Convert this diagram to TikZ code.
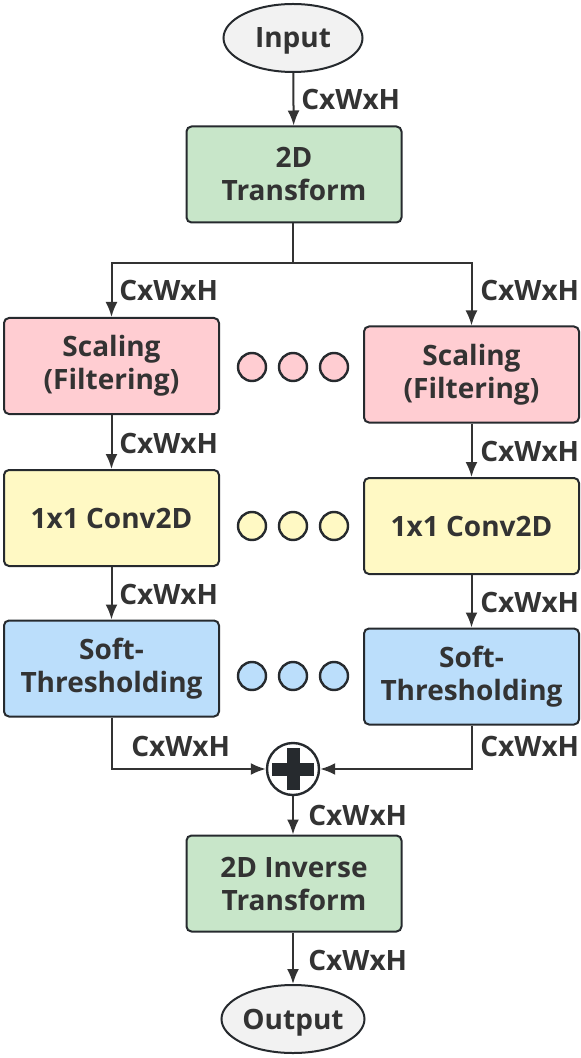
\documentclass[tikz,border=0pt]{standalone}
\usepackage{fontspec}
\setmainfont{Open Sans}
\usetikzlibrary{arrows.meta,shapes.geometric}
\definecolor{ink}{HTML}{333333}
\definecolor{edge}{HTML}{262A2E}
\definecolor{greenbox}{HTML}{C8E6C9}
\definecolor{pinkbox}{HTML}{FFCDD2}
\definecolor{yellowbox}{HTML}{FFF9C4}
\definecolor{bluebox}{HTML}{BBDEFB}
\definecolor{termfill}{HTML}{F2F2F2}
\tikzset{
  every node/.style={font=\fontsize{14}{16.5}\selectfont\bfseries, text=ink},
  block/.style={draw=edge, line width=1pt, rounded corners=2.5pt, align=center,
    minimum width=107.5pt, minimum height=48pt, inner sep=0pt},
  term/.style={draw=edge, line width=1pt, ellipse, fill=termfill, text depth=0pt,
    minimum width=69.5pt, minimum height=34pt, inner sep=0pt},
  dot/.style={draw=edge, line width=1.2pt, circle, minimum size=14pt, inner sep=0pt},
  dims/.style={anchor=west, inner sep=0pt},
  flow/.style={draw=ink, line width=1pt, -{Latex[length=7.5pt,width=6pt]}},
  wire/.style={draw=ink, line width=1pt}
}
\begin{document}
\begin{tikzpicture}[x=0.5pt,y=-0.5pt]
\useasboundingbox (0,0) rectangle (580,1058);

\node[term] (input) at (293,38) {Input};
\node[block, fill=greenbox] (trans) at (294,174.5) {2D\\Transform};

\node[block, fill=pinkbox] (scalL) at (111.5,366) {Scaling\\(Filtering)};
\node[block, fill=yellowbox] (convL) at (111.5,518) {1x1 Conv2D};
\node[block, fill=bluebox] (softL) at (111.5,668.5) {Soft-\\Thresholding};

\node[block, fill=pinkbox] (scalR) at (471.5,374.5) {Scaling\\(Filtering)};
\node[block, fill=yellowbox] (convR) at (471.5,526) {1x1 Conv2D};
\node[block, fill=bluebox] (softR) at (471.5,676.5) {Soft-\\Thresholding};

\foreach \i/\x in {1/252,2/293,3/334} {
  \node[dot, fill=pinkbox] (pd\i) at (\x,367) {};
  \node[dot, fill=yellowbox] (yd\i) at (\x,526) {};
  \node[dot, fill=bluebox] (bd\i) at (\x,676) {};
}

\node[draw=edge, line width=1.2pt, circle, fill=white, minimum size=26pt, inner sep=0pt] (plus) at (293,769) {};
\draw[edge, line width=6.5pt] ([xshift=-10.5pt]plus.center) -- ([xshift=10.5pt]plus.center);
\draw[edge, line width=6.5pt] ([yshift=-10.5pt]plus.center) -- ([yshift=10.5pt]plus.center);

\node[block, fill=greenbox] (inv) at (294,883.5) {2D Inverse\\Transform};
\node[term] (output) at (293,1019) {Output};

\coordinate (split) at (293,263);

% connectors
\draw[flow] (input) -- (trans);
\draw[wire] (trans.south -| split) -- (split);
\draw[flow] (split) -| (scalL.north);
\draw[flow] (split) -| (scalR.north);
\draw[flow] (scalL) -- (convL);
\draw[flow] (convL) -- (softL);
\draw[flow] (scalR) -- (convR);
\draw[flow] (convR) -- (softR);
\draw[flow] (softL.south) |- (plus.west);
\draw[flow] (softR.south) |- (plus.east);
\draw[flow] (plus) -- (plus |- inv.north);
\draw[flow] (inv.south -| output) -- (output);

% tensor sizes
\node[dims] (dIn) at (301,100) {CxWxH};
\node[dims] (dL1) at (119,291) {CxWxH};
\node[dims] (dR1) at (480,291) {CxWxH};
\node[dims] (dL2) at (119,443) {CxWxH};
\node[dims] (dR2) at (480,451) {CxWxH};
\node[dims] (dL3) at (119,594) {CxWxH};
\node[dims] (dR3) at (480,602) {CxWxH};
\node[dims] (dL4) at (131,746) {CxWxH};
\node[dims] (dR4) at (480,746) {CxWxH};
\node[dims] (dSum) at (308,815) {CxWxH};
\node[dims] (dOut) at (308,960) {CxWxH};
\end{tikzpicture}
\end{document}
